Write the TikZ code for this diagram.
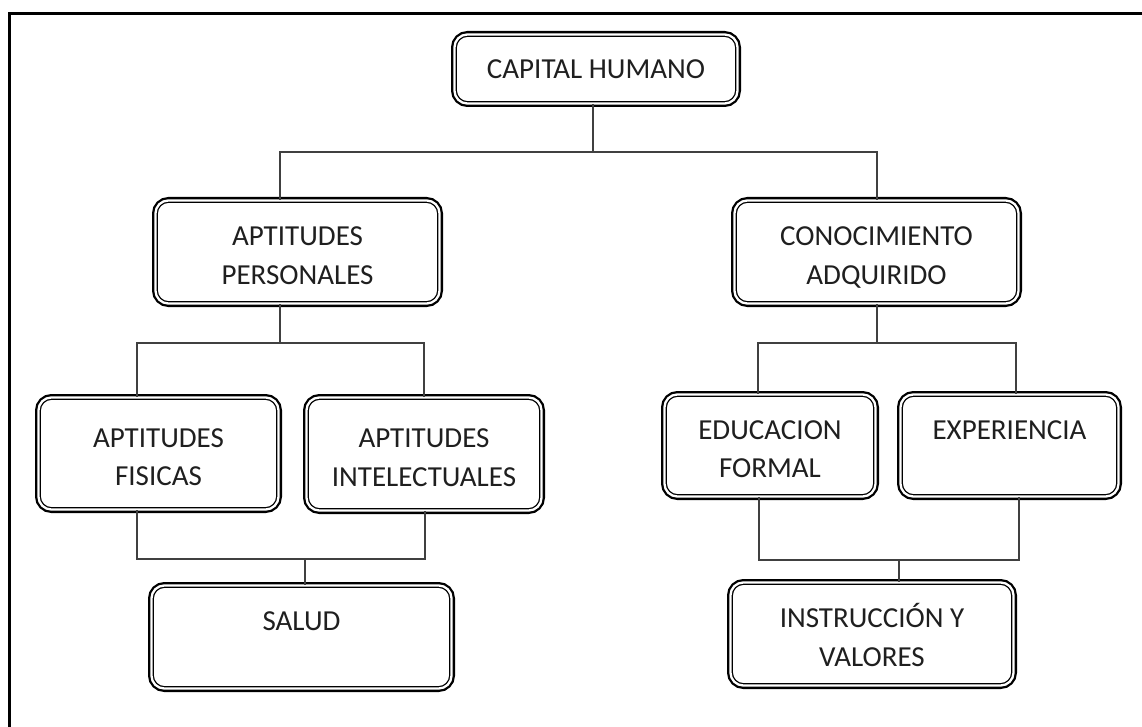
\documentclass[tikz,border=0pt]{standalone}
\usepackage{fontspec}
\setmainfont{Carlito}
\newcommand{\twolines}[2]{\rule{0pt}{32.3pt}#1\\#2\rule[-6pt]{0pt}{6pt}}
\newcommand{\oneline}[1]{\rule[-6pt]{0pt}{30.4pt}#1}
\tikzset{
  box/.style={draw=black, line width=1.3pt, double=white, double distance=2.3pt,
    preaction={draw=black, line width=6.9pt},
    rounded corners=13pt, fill=white, inner sep=0pt, align=center,
    font=\fontsize{29}{38.5}\selectfont, text=black!88},
  conn/.style={draw=black!75, line width=1.2pt},
  frame/.style={draw=black, line width=3pt},
}
\begin{document}
\begin{tikzpicture}[x=1pt, y=-1pt]
\useasboundingbox (0,0) rectangle (1142,727);
\draw[frame] (9,727) -- (9,14) -- (1142,14);

% boxes (outer size minus 6.9pt)
\node[box, minimum width=283.1pt, minimum height=69.1pt] (ch) at (596,69) {\oneline{CAPITAL HUMANO}};
\node[box, minimum width=284.1pt, minimum height=103.1pt] (ap) at (297.5,252) {\twolines{APTITUDES}{PERSONALES}};
\node[box, minimum width=284.1pt, minimum height=103.1pt] (ca) at (876.5,252) {\twolines{CONOCIMIENTO}{ADQUIRIDO}};
\node[box, minimum width=240.1pt, minimum height=112.1pt] (af) at (158.5,453.5) {\twolines{APTITUDES}{FISICAS}};
\node[box, minimum width=235.1pt, minimum height=113.1pt] (ai) at (424,454) {\twolines{APTITUDES}{INTELECTUALES}};
\node[box, minimum width=300.1pt, minimum height=103.1pt] (sa) at (301.5,637) {\twolines{SALUD}{}};
\node[box, minimum width=211.1pt, minimum height=102.1pt] (ed) at (770,445.5) {\twolines{EDUCACION}{FORMAL}};
\node[box, minimum width=218.1pt, minimum height=102.1pt] (ex) at (1009.5,445.5) {\twolines{EXPERIENCIA}{}};
\node[box, minimum width=283.1pt, minimum height=103.1pt] (in) at (872,634) {\twolines{INSTRUCCIÓN Y}{VALORES}};

% junction coordinates
\coordinate (j1) at (593,152);
\coordinate (j1l) at (280,152);
\coordinate (j1r) at (877,152);
\coordinate (j2l) at (137,343);
\coordinate (j2r) at (424,343);
\coordinate (j2) at (280,343);
\coordinate (j3l) at (758,343);
\coordinate (j3r) at (1016,343);
\coordinate (j3) at (877,343);
\coordinate (j4l) at (137,559);
\coordinate (j4r) at (425,559);
\coordinate (j4) at (305,559);
\coordinate (j5l) at (759,560);
\coordinate (j5r) at (1019,560);
\coordinate (j5) at (899,560);

% connectors
\draw[conn] (ch.south -| j1) -- (j1);
\draw[conn] (ap.north -| j1l) -- (j1l) -- (j1r) -- (ca.north -| j1r);
\draw[conn] (ap.south -| j2) -- (j2);
\draw[conn] (af.north -| j2l) -- (j2l) -- (j2r) -- (ai.north -| j2r);
\draw[conn] (ca.south -| j3) -- (j3);
\draw[conn] (ed.north -| j3l) -- (j3l) -- (j3r) -- (ex.north -| j3r);
\draw[conn] (af.south -| j4l) -- (j4l) -- (j4r) -- (ai.south -| j4r);
\draw[conn] (j4) -- (sa.north -| j4);
\draw[conn] (ed.south -| j5l) -- (j5l) -- (j5r) -- (ex.south -| j5r);
\draw[conn] (j5) -- (in.north -| j5);
\end{tikzpicture}
\end{document}
